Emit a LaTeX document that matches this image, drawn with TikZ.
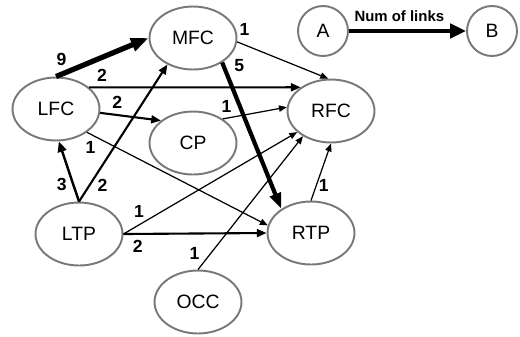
\documentclass[tikz,border=0pt]{standalone}
\usepackage{fontspec}
\setmainfont{Liberation Sans}
\usetikzlibrary{shapes.geometric,arrows.meta}
\definecolor{rim}{RGB}{120,120,120}

\begin{document}
\begin{tikzpicture}[x=0.02cm,y=-0.02cm,
    unit/.style={ellipse,draw=rim,line width=1.1pt,minimum width=1.74cm,minimum height=1.26cm,inner sep=0pt,font=\fontsize{11}{13}\selectfont},
    ends/.style={circle,draw=rim,line width=1.1pt,minimum size=1cm,inner sep=0pt,font=\fontsize{11}{13}\selectfont},
    num/.style={font=\bfseries\fontsize{10}{12}\selectfont,inner sep=1pt},
    one/.style={line width=0.7pt,-{Triangle[length=4.5pt,width=3.6pt]}},
    two/.style={line width=1.2pt,-{Triangle[length=5.5pt,width=4.5pt]}},
    three/.style={line width=1.4pt,-{Triangle[length=6pt,width=5pt]}},
    five/.style={line width=2.4pt,-{Triangle[length=9pt,width=6.5pt]}},
    nine/.style={line width=3pt,-{Triangle[length=10pt,width=7.5pt]}}]

    \useasboundingbox (0,0) rectangle (520,336);

    % regions
    \node[unit] (mfc) at (193,38) {MFC};
    \node[unit] (lfc) at (56,109) {LFC};
    \node[unit] (cp) at (193,143) {CP};
    \node[unit] (rfc) at (331,111) {RFC};
    \node[unit] (ltp) at (79,234) {LTP};
    \node[unit] (rtp) at (311,233) {RTP};
    \node[unit] (occ) at (198,302) {OCC};

    % legend
    \node[ends] (a) at (323,31) {A};
    \node[ends] (b) at (492,31) {B};
    \draw[line width=2.6pt,-{Triangle[length=9pt,width=8pt]}] (a) -- (b)
        node[pos=0.43,above=3pt,font=\bfseries\fontsize{8.5}{10}\selectfont,inner sep=1pt] {Num of links};

    % links, labelled with their count
    \draw[nine] (lfc.north) -- (mfc.west) node[num,pos=0.06,above=2.5pt] {9};
    \draw[two] (lfc.33) -- (rfc.142) node[num,pos=0.06,above=2pt] {2};
    \draw[two] (lfc.-5) -- (cp.145) node[num,pos=0.28,above=2pt] {2};
    \draw[one] (lfc.-37) -- (rtp.170) node[num,pos=0.02,below=3pt] {1};
    \draw[one] (cp.39) -- (rfc.175) node[num,pos=0.06,above=2pt] {1};
    \draw[one] (mfc.-5) -- (rfc.95) node[num,pos=0.08,above=4pt] {1};
    \draw[five] (mfc.-40) -- (rtp.141) node[num,pos=0.02,right=4pt] {5};
    \draw[three] (ltp.north) -- (lfc.-85) node[num,pos=0.29,left=2pt] {3};
    \draw[two] (ltp.north) -- (mfc.226) node[num,pos=0.12,right=3pt] {2};
    \draw[one] (ltp.east) -- (rfc.212) node[num,pos=0.09,above=3pt] {1};
    \draw[two] (ltp.east) -- (rtp.west) node[num,pos=0.1,below=2pt] {2};
    \draw[one] (occ.north) -- (rfc.222) node[num,pos=0.12,left=5pt] {1};
    \draw[one] (rtp.north) -- (rfc.south) node[num,pos=0.27,right] {1};
\end{tikzpicture}
\end{document}
